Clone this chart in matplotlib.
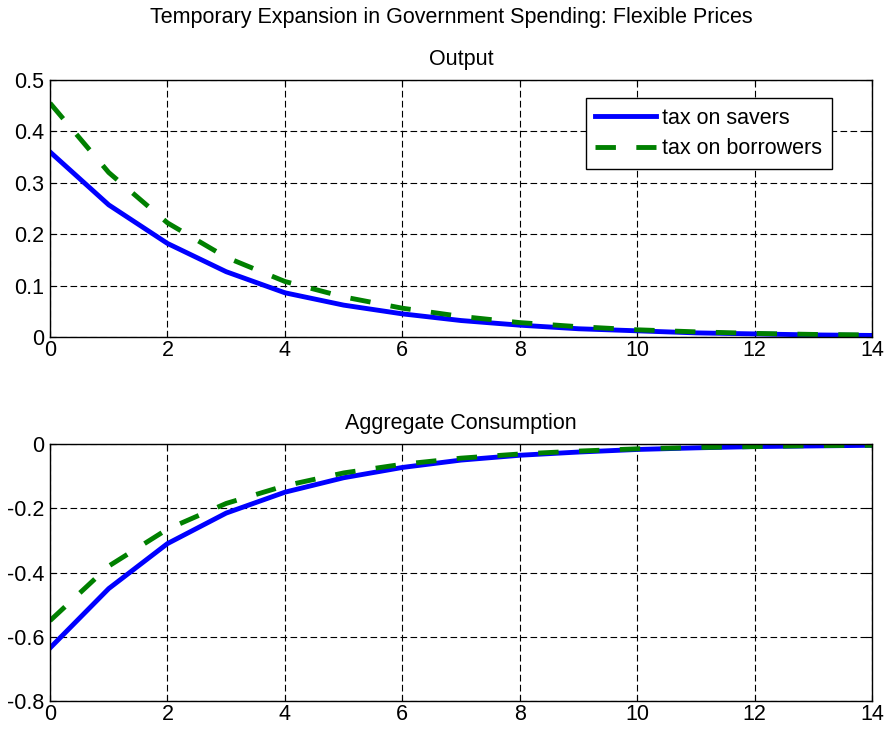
import numpy as np
import matplotlib.pyplot as plt

plt.rcParams['font.family'] = ['Liberation Sans', 'DejaVu Sans']

# impulse responses, quarters 0..14
t = np.arange(15)
output_savers = [0.360, 0.257, 0.182, 0.127, 0.086, 0.062, 0.045, 0.032,
                 0.023, 0.016, 0.012, 0.008, 0.006, 0.004, 0.003]
output_borrowers = [0.455, 0.320, 0.222, 0.155, 0.108, 0.078, 0.056, 0.040,
                    0.028, 0.020, 0.014, 0.010, 0.007, 0.005, 0.004]
cons_savers = [-0.635, -0.450, -0.310, -0.215, -0.150, -0.105, -0.073, -0.050,
               -0.035, -0.025, -0.017, -0.012, -0.008, -0.006, -0.004]
cons_borrowers = [-0.550, -0.380, -0.265, -0.185, -0.130, -0.090, -0.063, -0.044,
                  -0.031, -0.022, -0.015, -0.011, -0.008, -0.005, -0.004]

FS = 15.5

fig = plt.figure(figsize=(8.85, 7.31), dpi=100)
ax1 = fig.add_axes([0.0565, 0.539, 0.929, 0.3516])
ax2 = fig.add_axes([0.0565, 0.041, 0.929, 0.3516])

def style(ax, title, ylim, yticks):
    ax.set_xlim(0, 14)
    ax.set_ylim(*ylim)
    ax.set_xticks(np.arange(0, 15, 2))
    ax.set_yticks(yticks)
    ax.set_yticklabels([('%g' % v) for v in yticks])
    ax.grid(True, color='black', linestyle=(0, (6, 3)), linewidth=0.8)
    ax.set_axisbelow(True)
    ax.tick_params(direction='in', top=True, right=True, labelsize=FS,
                   length=4)
    ax.tick_params(axis='x', pad=2)
    ax.tick_params(axis='y', pad=4)
    for s in ax.spines.values():
        s.set_linewidth(1.0)
    ax.set_title(title, fontsize=FS, pad=11)

ax1.plot(t, output_savers, color='blue', lw=3.5, label='tax on savers')
ax1.plot(t, output_borrowers, color='green', lw=3.5, dashes=(4.2, 4.2),
         label='tax on borrowers')
style(ax1, 'Output', (0, 0.5), [0, 0.1, 0.2, 0.3, 0.4, 0.5])
leg = ax1.legend(loc='upper right', bbox_to_anchor=(0.951, 0.930), fontsize=FS,
                 fancybox=False, edgecolor='black', framealpha=1,
                 handlelength=2.8, handletextpad=0.3, borderpad=0.45,
                 labelspacing=0.45, borderaxespad=0)
leg.get_frame().set_linewidth(1.0)

ax2.plot(t, cons_savers, color='blue', lw=3.5)
ax2.plot(t, cons_borrowers, color='green', lw=3.5, dashes=(4.2, 4.2))
style(ax2, 'Aggregate Consumption', (-0.8, 0), [-0.8, -0.6, -0.4, -0.2, 0])

fig.text(0.51, 0.976, 'Temporary Expansion in Government Spending: Flexible Prices',
         ha='center', va='center', fontsize=FS)

fig.savefig('out.png', dpi=100)
